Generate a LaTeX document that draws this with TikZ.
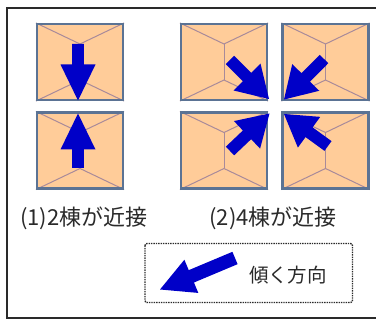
\documentclass[tikz,border=0pt]{standalone}
\usepackage{fontspec}
\newfontfamily\jpfont{Noto Sans CJK JP}
\usetikzlibrary{calc}

\definecolor{roof}{HTML}{FFCC99}
\definecolor{wall}{HTML}{5B7394}
\definecolor{ridge}{HTML}{A88A9A}
\definecolor{arrowblue}{HTML}{0000C8}
\definecolor{ink}{HTML}{2A2A2A}

% one building seen from above: hip roof with a short vertical ridge
\newcommand\building[3]{% name, centre x, centre y
  \node[house, minimum width=86pt, minimum height=76pt] (#1) at (#2,#3) {};
  \draw[ridgeline] (#1.north west) -- ($(#1.center)+(0,-18)$) -- (#1.north east);
  \draw[ridgeline] (#1.south west) -- ($(#1.center)+(0,18)$) -- (#1.south east);
  \draw[ridgeline] ($(#1.center)+(0,-18)$) -- ($(#1.center)+(0,18)$);
  \node[house, fill=none, minimum width=86pt, minimum height=76pt] at (#1) {};
}

% block arrow from a tail coordinate to a tip coordinate
\newcommand\blockarrow[5]{% tail, tip, head length, half head width, half shaft width
  \coordinate (hb) at ($(#2)!#3!(#1)$);
  \fill[arrowblue]
    ($(#1)!#5!90:(#2)$) -- ($(hb)!#5!-90:(#1)$) -- ($(hb)!#4!-90:(#1)$) -- (#2)
    -- ($(hb)!#4!90:(#1)$) -- ($(hb)!#5!90:(#1)$) -- ($(#1)!#5!-90:(#2)$) -- cycle;
}

\tikzset{
  house/.style={draw=wall, line width=2.1pt, fill=roof, inner sep=0pt, rectangle},
  ridgeline/.style={draw=ridge, line width=1pt},
  caption/.style={font=\jpfont\fontsize{22pt}{24pt}\selectfont, text=ink, inner sep=0pt},
  legendbox/.style={draw=ink, line width=1.4pt, densely dotted, rounded corners=2pt},
}

\begin{document}
\begin{tikzpicture}[x=1pt, y=-1pt]
  \useasboundingbox (0,0) rectangle (376,321);
  \fill[white] (0,0) rectangle (376,321);

  % outer frame, open beyond the right edge
  \draw[ink, line width=1.3pt] (7,8) rectangle (390,318);

  % (1) two buildings
  \building{a1}{80}{62}
  \building{a2}{80}{150.5}
  \coordinate (a1t) at (78,44);   \coordinate (a1h) at (78,100.5);
  \coordinate (a2t) at (78,168);  \coordinate (a2h) at (78,113.5);
  \blockarrow{a1t}{a1h}{36pt}{17.5pt}{5.8pt}
  \blockarrow{a2t}{a2h}{36pt}{17.5pt}{5.8pt}

  % (2) four buildings
  \building{b1}{224}{62}
  \building{b2}{325.5}{62}
  \building{b3}{224}{150.5}
  \building{b4}{325.5}{150.5}
  \coordinate (b1t) at (230,60);  \coordinate (b1h) at (269,99);
  \coordinate (b2t) at (324,59);  \coordinate (b2h) at (284,99.5);
  \coordinate (b3t) at (230,151); \coordinate (b3h) at (269.5,113.5);
  \coordinate (b4t) at (328,146); \coordinate (b4h) at (284,114);
  \blockarrow{b1t}{b1h}{31pt}{19pt}{6pt}
  \blockarrow{b2t}{b2h}{31pt}{19pt}{6pt}
  \blockarrow{b3t}{b3h}{31pt}{19pt}{6pt}
  \blockarrow{b4t}{b4h}{31pt}{19pt}{6pt}

  % captions
  \node[caption] (c1) at (84,218) {(1)2棟が近接};
  \node[caption] (c2) at (273,218) {(2)4棟が近接};

  % legend
  \draw[legendbox] (145,243.5) rectangle (352.5,302.5);
  \coordinate (lt) at (235,258);  \coordinate (lh) at (160,289.5);
  \blockarrow{lt}{lh}{34pt}{18pt}{6.7pt}
  \node[caption, font=\jpfont\fontsize{19.5pt}{22pt}\selectfont] (lg) at (288,275) {傾く方向};
\end{tikzpicture}
\end{document}
